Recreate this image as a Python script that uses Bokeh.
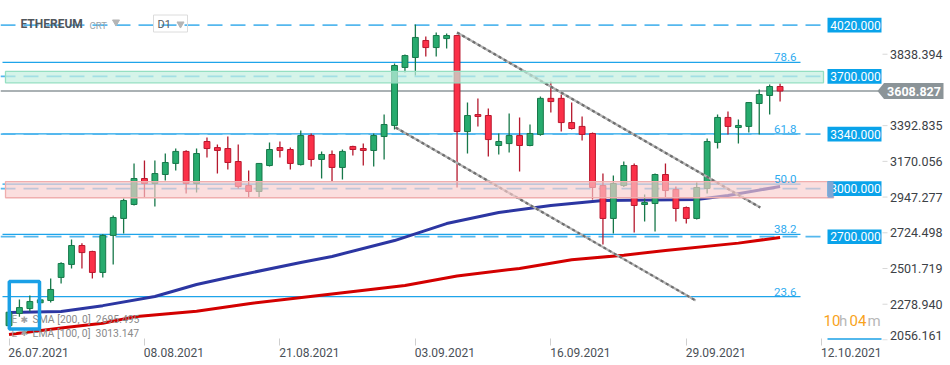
from bokeh.plotting import figure
from bokeh.models import Range1d, FixedTicker
from bokeh.core.properties import value
from bokeh.embed import file_html
from bokeh.resources import INLINE

FONT = "Roboto"

# ---------------- data ----------------
opens = [2145, 2221, 2252, 2288, 2302, 2446, 2527, 2645, 2608, 2477,
         2708, 2814, 2901, 3063, 3032, 3088, 3157, 3232, 3032, 3294,
         3256, 3250, 3169, 3019, 2982, 3144, 3256, 3244, 3150, 3331,
         3182, 3213, 3132, 3263, 3250, 3238, 3325, 3394, 3756, 3818,
         3924, 3880, 3936, 3955, 3356, 3462, 3456, 3269, 3281, 3331,
         3269, 3338, 3563, 3563, 3412, 3388, 3344, 3019, 2814, 3019,
         3144, 2901, 2907, 3088, 2994, 2882, 2814, 3001, 3288, 3444,
         3381, 3388, 3531, 3581, 3637]
highs = [2400, 2308, 2333, 2330, 2439, 2540, 2683, 2660, 2612, 2715,
         2832, 2938, 3157, 3175, 3175, 3219, 3250, 3240, 3250, 3319,
         3275, 3325, 3275, 3113, 3160, 3288, 3294, 3256, 3363, 3344,
         3232, 3238, 3244, 3268, 3281, 3344, 3462, 3780, 3837, 4024,
         3949, 3974, 3968, 3960, 3537, 3562, 3500, 3344, 3469, 3444,
         3400, 3575, 3668, 3587, 3537, 3450, 3350, 3094, 3082, 3169,
         3157, 2963, 3094, 3157, 3013, 2888, 3038, 3313, 3462, 3481,
         3431, 3540, 3618, 3650, 3656]
lows = [2130, 2200, 2233, 2275, 2290, 2408, 2502, 2502, 2439, 2446,
        2527, 2720, 2895, 2945, 2888, 3051, 3113, 2970, 2976, 3194,
        3094, 3119, 3001, 2945, 2945, 3138, 3194, 3119, 3144, 3138,
        3063, 3044, 3057, 3207, 3144, 3138, 3182, 3369, 3724, 3706,
        3824, 3824, 3874, 3007, 3219, 3388, 3200, 3213, 3225, 3107,
        3265, 3330, 3475, 3356, 3369, 3300, 2932, 2651, 2720, 3010,
        2726, 2795, 2733, 2945, 2795, 2782, 2808, 2970, 3250, 3338,
        3281, 3350, 3338, 3462, 3543]
closes = [2229, 2258, 2296, 2306, 2371, 2533, 2645, 2601, 2477, 2708,
          2820, 2926, 3063, 3032, 3094, 3163, 3232, 3032, 3219, 3250,
          3238, 3163, 3013, 2982, 3157, 3244, 3238, 3157, 3331, 3182,
          3213, 3132, 3232, 3244, 3238, 3331, 3400, 3768, 3830, 3943,
          3880, 3955, 3955, 3356, 3456, 3450, 3306, 3294, 3331, 3269,
          3344, 3563, 3543, 3412, 3375, 3338, 3007, 2814, 3032, 3144,
          2895, 2913, 3088, 2988, 2876, 2814, 3007, 3294, 3444, 3388,
          3394, 3537, 3587, 3637, 3608.827]

x_tick_index = [0, 13, 26, 39, 52, 65, 78]
x_tick_labels = ["26.07.2021", "08.08.2021", "21.08.2021", "03.09.2021",
                 "16.09.2021", "29.09.2021", "12.10.2021"]
y_ticks = [2056.161, 2278.940, 2501.719, 2724.498, 2947.277, 3170.056, 3392.835, 3838.394]

levels = [4020.0, 3700.0, 3340.0, 3000.0, 2700.0]
fib_low, fib_high = 1700.0, 4356.0
fib_ratios = [0.236, 0.382, 0.5, 0.618, 0.786]
fib_labels = ["23.6", "38.2", "50.0", "61.8", "78.6"]
green_zone = (3660.0, 3731.0)
red_zone = (2943.0, 3044.0)

ema_idx = [0, 5, 9, 14, 18, 21.5, 28, 31, 37, 42, 47, 52, 57, 66, 69, 74]
ema_val = [2227, 2233, 2270, 2327, 2402, 2452, 2539, 2577, 2676, 2782, 2851, 2895, 2926, 2932, 2957, 3013.147]
sma_idx = [0, 5, 9, 12, 18, 23, 31, 38, 43, 49, 54, 59, 63, 70, 74]
sma_val = [2090, 2130, 2160, 2200, 2235, 2282, 2343, 2396, 2455, 2502, 2556, 2585, 2614, 2660, 2695.495]

trend1_idx = [37.1, 65.9]
trend1_val = [3381, 2302]
trend2_idx = [43.0, 72.1]
trend2_val = [3974, 2882]

last_price = closes[-1]

# ------------- helpers: screen pixel position -> data coordinates -------------
PX_PER_BAR = 10.42
X0 = 8.5
V_PER_PX = 6.238
V_AT_Y0 = 4173.5


def bx(px):
    return (px - X0) / PX_PER_BAR


def by(py):
    return V_AT_Y0 - V_PER_PX * py


p = figure(frame_width=950, frame_height=340,
           x_range=Range1d(bx(0), bx(950)), y_range=Range1d(by(340), by(0)),
           y_axis_location=None, output_backend="svg", toolbar_location=None,
           min_border=0, background_fill_color="white", border_fill_color="white")
p.outline_line_color = None
p.xgrid.grid_line_color = None
p.ygrid.grid_line_color = None

n = len(opens)
idx = list(range(n))

# fib lines
fib_vals = [fib_low + r * (fib_high - fib_low) for r in fib_ratios]
p.segment(x0=[bx(2)] * len(fib_vals), x1=[bx(800)] * len(fib_vals), y0=fib_vals, y1=fib_vals,
          line_color="#1ea4ea", line_width=1.2)
# horizontal level lines
p.segment(x0=[bx(0)] * len(levels), x1=[bx(826)] * len(levels), y0=levels, y1=levels,
          line_color="#55b8ee", line_width=1.8, line_dash="15 8")
# last price line
p.segment(x0=[bx(0)], x1=[bx(878)], y0=[last_price], y1=[last_price],
          line_color="#8e979b", line_width=1.5)

# moving averages
p.line(sma_idx, sma_val, line_color="#d30000", line_width=3)
p.line(ema_idx, ema_val, line_color="#2c36a2", line_width=3)

# candles
up = [c >= o for o, c in zip(opens, closes)]
wick_col = ["#17784a" if u else "#b5192e" for u in up]
fill_col = ["#27ab6e" if u else "#fb3048" for u in up]
line_col = ["#17784a" if u else "#b9172d" for u in up]
p.segment(x0=idx, x1=idx, y0=lows, y1=highs, line_color=wick_col, line_width=1.3)
p.vbar(x=idx, width=0.56, top=[max(o, c) for o, c in zip(opens, closes)],
       bottom=[min(o, c) for o, c in zip(opens, closes)],
       fill_color=fill_col, line_color=line_col, line_width=1)

# trend lines
for tx, tv in ((trend1_idx, trend1_val), (trend2_idx, trend2_val)):
    p.line(tx, tv, line_color="#b4b4b4", line_width=2.2)
    p.line(tx, tv, line_color="#6f6f6f", line_width=2.2, line_dash="3 3")

# zones
p.quad(left=[bx(5)], right=[bx(823)], bottom=[green_zone[0]], top=[green_zone[1]],
       fill_color="#c3f0df", fill_alpha=0.7, line_color="#95dfc2", line_width=1.3)
p.quad(left=[bx(5)], right=[bx(833)], bottom=[red_zone[0]], top=[red_zone[1]],
       fill_color="#f9cccc", fill_alpha=0.65, line_color="#f0aeae", line_width=1.3)

# level label boxes
hb = 7.3 * V_PER_PX
p.quad(left=[bx(827)] * len(levels), right=[bx(881)] * len(levels),
       bottom=[l - hb for l in levels], top=[l + hb for l in levels],
       fill_color="#0aa3ea", line_color=None)
p.text(x=[bx(855)] * len(levels), y=levels, text=["%.3f" % l for l in levels],
       text_font=value(FONT), text_font_size="12px", text_color="white",
       text_align="center", text_baseline="middle")
# zone handle
p.quad(left=[bx(827)], right=[bx(833)], bottom=[red_zone[0]], top=[red_zone[1]],
       fill_color="#7ea6d4", line_color=None)

# fib texts
p.text(x=[bx(796)] * len(fib_vals), y=[v + 5 * V_PER_PX for v in fib_vals], text=fib_labels,
       text_font=value(FONT), text_font_size="11.5px", text_color="#2eabef",
       text_align="right", text_baseline="alphabetic")

# price scale (right side, drawn inside the pane)
p.segment(x0=[bx(882)] * len(y_ticks), x1=[bx(887)] * len(y_ticks), y0=y_ticks, y1=y_ticks,
          line_color="#d8d8d8", line_width=1)
p.text(x=[bx(889.5)] * len(y_ticks), y=[max(t, by(335)) for t in y_ticks],
       text=["%.3f" % t for t in y_ticks], text_font=value(FONT), text_font_size="12.5px",
       text_color="#3c4146", text_baseline="middle")

# current price tag
tag_h = 8 * V_PER_PX
p.patch(x=[bx(877), bx(883.5), bx(943), bx(943), bx(883.5)],
        y=[last_price, last_price + tag_h, last_price + tag_h, last_price - tag_h, last_price - tag_h],
        fill_color="#8b9498", line_color=None)
p.text(x=[bx(913.5)], y=[last_price], text=["%.3f" % last_price], text_align="center",
       text_baseline="middle", text_color="white", text_font=value(FONT),
       text_font_size="12.5px", text_font_style="bold")

# header
p.text(x=[bx(20)], y=[by(23)], text=["ETHEREUM"], text_font=value(FONT), text_font_size="12px",
       text_font_style="bold", text_color="#50565c", text_baseline="middle")
p.text(x=[bx(89)], y=[by(24.5)], text=["CRT"], text_font=value(FONT), text_font_size="9.5px",
       text_color="#9aa3a8", text_baseline="middle")
p.quad(left=[bx(153)], right=[bx(187)], top=[by(14.5)], bottom=[by(31.5)],
       fill_color=None, line_color="#dcdcdc", line_width=1)
p.text(x=[bx(157)], y=[by(23.5)], text=["D1"], text_font=value(FONT), text_font_size="11px",
       text_color="#555b60", text_baseline="middle")
p.scatter(x=[bx(115.5), bx(180)], y=[by(21.5), by(23.5)], marker="inverted_triangle",
          size=7, color="#b5b5b5")

# indicator legend
p.text(x=[bx(11), bx(11)], y=[by(319), by(332.5)], text=["E", "E"], text_font=value(FONT),
       text_font_size="10px", text_color="#a0a0a0", text_baseline="middle")
p.text(x=[bx(20), bx(20)], y=[by(319), by(332.5)], text=["\u2731", "\u2731"],
       text_font=value("DejaVu Sans"), text_font_size="9px", text_color="#a0a0a0",
       text_baseline="middle")
p.text(x=[bx(32), bx(32)], y=[by(319), by(332.5)],
       text=["SMA [200, 0]\u00a0 %.3f" % sma_val[-1], "EMA [100, 0]\u00a0 %.3f" % ema_val[-1]],
       text_font=value(FONT), text_font_size="10.4px", text_color="#8a8a8a",
       text_baseline="middle")

# countdown
p.text(x=[bx(823), bx(849)], y=[by(320)] * 2, text=["10", "04"], text_font=value(FONT),
       text_font_size="15px", text_color="#f8a31c", text_baseline="middle")
p.text(x=[bx(838.5), bx(867)], y=[by(320)] * 2, text=["h", "m"], text_font=value(FONT),
       text_font_size="15px", text_color="#b8b8b8", text_baseline="middle")
p.segment(x0=[bx(827)], x1=[bx(881)], y0=[by(338.5)], y1=[by(338.5)],
          line_color="#1aa0e6", line_width=1.5)

# highlight box
p.quad(left=[bx(8.8)], right=[bx(39)], top=[by(281)], bottom=[by(328.5)],
       fill_color=None, line_color="#1aa0e6", line_width=3.5)

# date axis
shift = 2.83
xt = [i + shift for i in x_tick_index]
p.xaxis.ticker = FixedTicker(ticks=xt, minor_ticks=x_tick_index)
p.xaxis.major_label_overrides = {t: lab for t, lab in zip(xt, x_tick_labels)}
p.xaxis.major_tick_line_color = None
p.xaxis.major_tick_in = 0
p.xaxis.major_tick_out = 0
p.xaxis.minor_tick_line_color = "#cfcfcf"
p.xaxis.minor_tick_in = 2
p.xaxis.minor_tick_out = 5
p.xaxis.axis_line_color = None
p.xaxis.major_label_standoff = 2
p.xaxis.major_label_text_font = FONT
p.xaxis.major_label_text_font_size = "12px"
p.xaxis.major_label_text_color = "#4a5057"

open("out.html", "w").write(file_html(p, INLINE))
